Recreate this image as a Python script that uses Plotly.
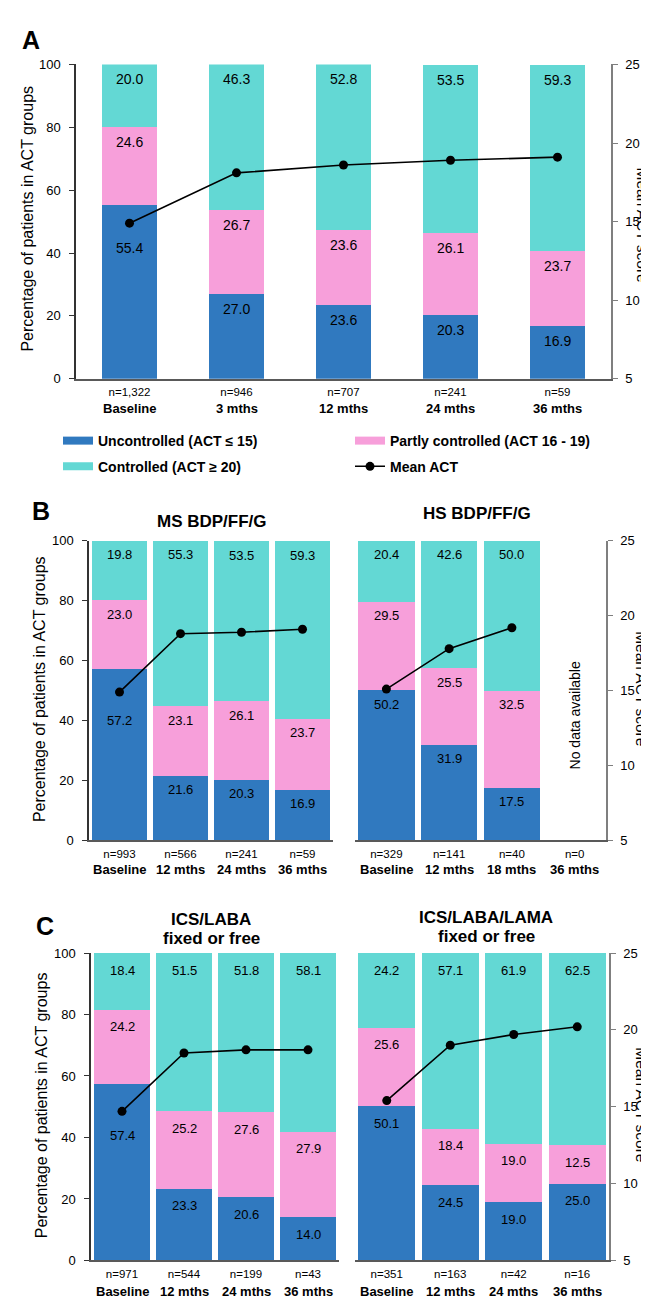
import plotly.graph_objects as go

W, H = 649, 1298

# ---------------- data ----------------
# Panel A
a_cats = ["Baseline", "3 mths", "12 mths", "24 mths", "36 mths"]
a_n = ["n=1,322", "n=946", "n=707", "n=241", "n=59"]
a_unc = [55.4, 27.0, 23.6, 20.3, 16.9]
a_part = [24.6, 26.7, 23.6, 26.1, 23.7]
a_ctrl = [20.0, 46.3, 52.8, 53.5, 59.3]
a_mean = [14.9, 18.1, 18.6, 18.9, 19.1]

# Panel B - MS BDP/FF/G
bl_cats = ["Baseline", "12 mths", "24 mths", "36 mths"]
bl_n = ["n=993", "n=566", "n=241", "n=59"]
bl_unc = [57.2, 21.6, 20.3, 16.9]
bl_part = [23.0, 23.1, 26.1, 23.7]
bl_ctrl = [19.8, 55.3, 53.5, 59.3]
bl_mean = [14.9, 18.8, 18.9, 19.1]

# Panel B - HS BDP/FF/G
br_cats = ["Baseline", "12 mths", "18 mths", "36 mths"]
br_n = ["n=329", "n=141", "n=40", "n=0"]
br_unc = [50.2, 31.9, 17.5, None]
br_part = [29.5, 25.5, 32.5, None]
br_ctrl = [20.4, 42.6, 50.0, None]
br_mean = [15.1, 17.8, 19.2, None]

# Panel C - ICS/LABA fixed or free
cl_cats = ["Baseline", "12 mths", "24 mths", "36 mths"]
cl_n = ["n=971", "n=544", "n=199", "n=43"]
cl_unc = [57.4, 23.3, 20.6, 14.0]
cl_part = [24.2, 25.2, 27.6, 27.9]
cl_ctrl = [18.4, 51.5, 51.8, 58.1]
cl_mean = [14.7, 18.5, 18.7, 18.7]

# Panel C - ICS/LABA/LAMA fixed or free
cr_cats = ["Baseline", "12 mths", "24 mths", "36 mths"]
cr_n = ["n=351", "n=163", "n=42", "n=16"]
cr_unc = [50.1, 24.5, 19.0, 25.0]
cr_part = [25.6, 18.4, 19.0, 12.5]
cr_ctrl = [24.2, 57.1, 61.9, 62.5]
cr_mean = [15.4, 19.0, 19.7, 20.2]

series_names = ["Uncontrolled (ACT ≤ 15)", "Partly controlled (ACT 16 - 19)",
                "Controlled (ACT ≥ 20)", "Mean ACT"]

# ---------------- style ----------------
BLUE = "#3079BF"
PINK = "#F79FDA"
TEAL = "#63D8D4"
COLORS = [BLUE, PINK, TEAL]
FONT = "Liberation Sans, Arial, sans-serif"


def px_x(p):
    return p / W


def px_y(p):
    return 1 - p / H


fig = go.Figure()
annotations = []


def add_panel(cats, nlab, unc, part, ctrl, mean, xa, ya, yl, barw,
              lab_size, lab_shift, nudge, legend=False):
    vals = [unc, part, ctrl]
    for k in range(3):
        fig.add_trace(go.Bar(
            x=cats, y=vals[k], name=series_names[k], xaxis=xa, yaxis=ya,
            width=barw, marker=dict(color=COLORS[k], line=dict(width=0)),
            showlegend=False, hoverinfo="skip"))
    fig.add_trace(go.Scatter(
        x=cats, y=mean, name=series_names[3], xaxis=xa, yaxis=yl,
        mode="lines+markers", line=dict(color="black", width=1.6),
        marker=dict(color="black", size=9), showlegend=legend,
        legend="legend2", connectgaps=False))
    # data labels, placed just below the top of each stacked segment
    for i, c in enumerate(cats):
        if unc[i] is None:
            continue
        cum = 0
        for k in range(3):
            v = vals[k][i]
            cum += v
            shift = lab_shift + nudge.get((k, i), 0)
            annotations.append(dict(
                x=c, y=min(cum, 100), xref=xa, yref=ya, text=f"{v:.1f}",
                showarrow=False, yanchor="middle", yshift=-shift,
                font=dict(size=lab_size, color="black", family=FONT)))


# legend keys for the bar groups (wide colour swatches as in the original)
for k, leg in zip(range(3), ["legend", "legend", "legend2"]):
    fig.add_trace(go.Scatter(
        x=[None], y=[None], xaxis="x", yaxis="y", mode="lines",
        name=series_names[k], line=dict(color=COLORS[k], width=8),
        legend=leg, showlegend=True, hoverinfo="skip"))

# Panel A
add_panel(a_cats, a_n, a_unc, a_part, a_ctrl, a_mean, "x", "y", "y2",
          0.52, 14, 15, {(0, 0): 28}, legend=True)
# Panel B
add_panel(bl_cats, bl_n, bl_unc, bl_part, bl_ctrl, bl_mean, "x2", "y3", "y4",
          0.9, 13, 14, {(0, 0): 37})
add_panel(br_cats, br_n, br_unc, br_part, br_ctrl, br_mean, "x3", "y5", "y6",
          0.9, 13, 14, {})
# Panel C
add_panel(cl_cats, cl_n, cl_unc, cl_part, cl_ctrl, cl_mean, "x4", "y7", "y8",
          0.9, 13, 17, {(0, 0): 35})
add_panel(cr_cats, cr_n, cr_unc, cr_part, cr_ctrl, cr_mean, "x5", "y9", "y10",
          0.9, 13, 17, {})


def xaxis(dom, anchor, cats, nlab):
    return dict(domain=[px_x(dom[0]), px_x(dom[1])], anchor=anchor,
                type="category", categoryorder="array", categoryarray=cats,
                tickvals=cats, ticktext=nlab, showline=True,
                linecolor="#595959", linewidth=1.5, ticks="", showgrid=False,
                zeroline=False, tickfont=dict(size=11.5, color="black"),
                ticklabelstandoff=2, fixedrange=True)


def yleft(dom, anchor, visible=True):
    return dict(domain=[px_y(dom[1]), px_y(dom[0])], anchor=anchor,
                range=[0, 100], tickvals=[0, 20, 40, 60, 80, 100],
                showline=visible, showticklabels=visible,
                ticks="outside" if visible else "", ticklen=5,
                tickcolor="#333", linecolor="#333", linewidth=1.5,
                showgrid=False, zeroline=False, ticklabelstandoff=6,
                tickfont=dict(size=13, color="black"), fixedrange=True)


def yright(over, anchor, visible=True):
    return dict(overlaying=over, anchor=anchor, side="right", range=[5, 25],
                tickvals=[5, 10, 15, 20, 25], visible=visible,
                showline=True, linecolor="#7f7f7f", linewidth=1.5,
                ticks="outside", ticklen=5, tickcolor="#7f7f7f",
                showgrid=False, zeroline=False, ticklabelstandoff=5,
                tickfont=dict(size=13, color="black"), fixedrange=True)


A_X, A_Y = (68, 603), (50, 368)
BL_X, BR_X, B_Y = (81, 325), (347, 598), (532, 835)
CL_X, CR_X, C_Y = (83, 331), (347, 601), (949, 1260)

fig.update_layout(
    xaxis=xaxis(A_X, "y", a_cats, a_n),
    yaxis=yleft(A_Y, "x"),
    yaxis2=yright("y", "x"),
    xaxis2=xaxis(BL_X, "y3", bl_cats, bl_n),
    yaxis3=yleft(B_Y, "x2"),
    yaxis4=yright("y3", "x2", visible=False),
    xaxis3=xaxis(BR_X, "y5", br_cats, br_n),
    yaxis5=yleft(B_Y, "x3", visible=False),
    yaxis6=yright("y5", "x3"),
    xaxis4=xaxis(CL_X, "y7", cl_cats, cl_n),
    yaxis7=yleft(C_Y, "x4"),
    yaxis8=yright("y7", "x4", visible=False),
    xaxis5=xaxis(CR_X, "y9", cr_cats, cr_n),
    yaxis9=yleft(C_Y, "x5", visible=False),
    yaxis10=yright("y9", "x5"),
)

# category labels (bold) under n labels
for cats, xa, ypix in [(a_cats, "x", 398), (bl_cats, "x2", 864),
                       (br_cats, "x3", 864), (cl_cats, "x4", 1291),
                       (cr_cats, "x5", 1291)]:
    for c in cats:
        annotations.append(dict(x=c, xref=xa, y=px_y(ypix), yref="paper",
                                text=f"<b>{c}</b>", showarrow=False,
                                yanchor="middle",
                                font=dict(size=13, color="black", family=FONT)))


def txt(x, y, text, size, bold=False, angle=0, xanchor="center"):
    annotations.append(dict(x=px_x(x), y=px_y(y), xref="paper", yref="paper",
                            text=f"<b>{text}</b>" if bold else text,
                            showarrow=False, textangle=angle,
                            xanchor=xanchor, yanchor="middle",
                            font=dict(size=size, color="black", family=FONT)))


# panel letters
txt(23, 25, "A", 25, bold=True)
txt(33, 502, "B", 25, bold=True)
txt(37, 922, "C", 25, bold=True)

# subplot titles
txt(204, 512, "MS BDP/FF/G", 17, bold=True)
txt(469, 504, "HS BDP/FF/G", 17, bold=True)
txt(203, 915, "ICS/LABA", 17, bold=True)
txt(203, 934, "fixed or free", 17, bold=True)
txt(478, 913, "ICS/LABA/LAMA", 17, bold=True)
txt(478, 932, "fixed or free", 17, bold=True)

# axis titles
ytitle = "Percentage of patients in ACT groups"
txt(20, 206, ytitle, 16, angle=-90)
txt(31, 682, ytitle, 16, angle=-90)
txt(33, 1103, ytitle, 16, angle=-90)
txt(634, 212, "Mean ACT score", 15.5, angle=90)
txt(634, 681, "Mean ACT score", 15.5, angle=90)
txt(634, 1102, "Mean ACT score", 15.5, angle=90)

# no data text
annotations.append(dict(x="36 mths", xref="x3", y=px_y(709), yref="paper",
                        text="No data available", showarrow=False,
                        textangle=-90, font=dict(size=14, color="black",
                                                  family=FONT)))

leg_common = dict(orientation="h", xanchor="left", yanchor="middle",
                  entrywidth=247, entrywidthmode="pixels",
                  font=dict(size=14, color="black", family=FONT, weight="bold"),
                  traceorder="normal", bgcolor="rgba(0,0,0,0)",
                  itemclick=False, itemdoubleclick=False)

fig.update_layout(
    width=W, height=H, autosize=False,
    margin=dict(l=0, r=0, t=0, b=0),
    paper_bgcolor="white", plot_bgcolor="white",
    barmode="stack", showlegend=True,
    font=dict(family=FONT, color="black"),
    legend=dict(x=px_x(50), y=px_y(431), **leg_common),
    legend2=dict(x=px_x(50), y=px_y(457), **leg_common),
    annotations=annotations,
)

fig.write_html("out.html")
